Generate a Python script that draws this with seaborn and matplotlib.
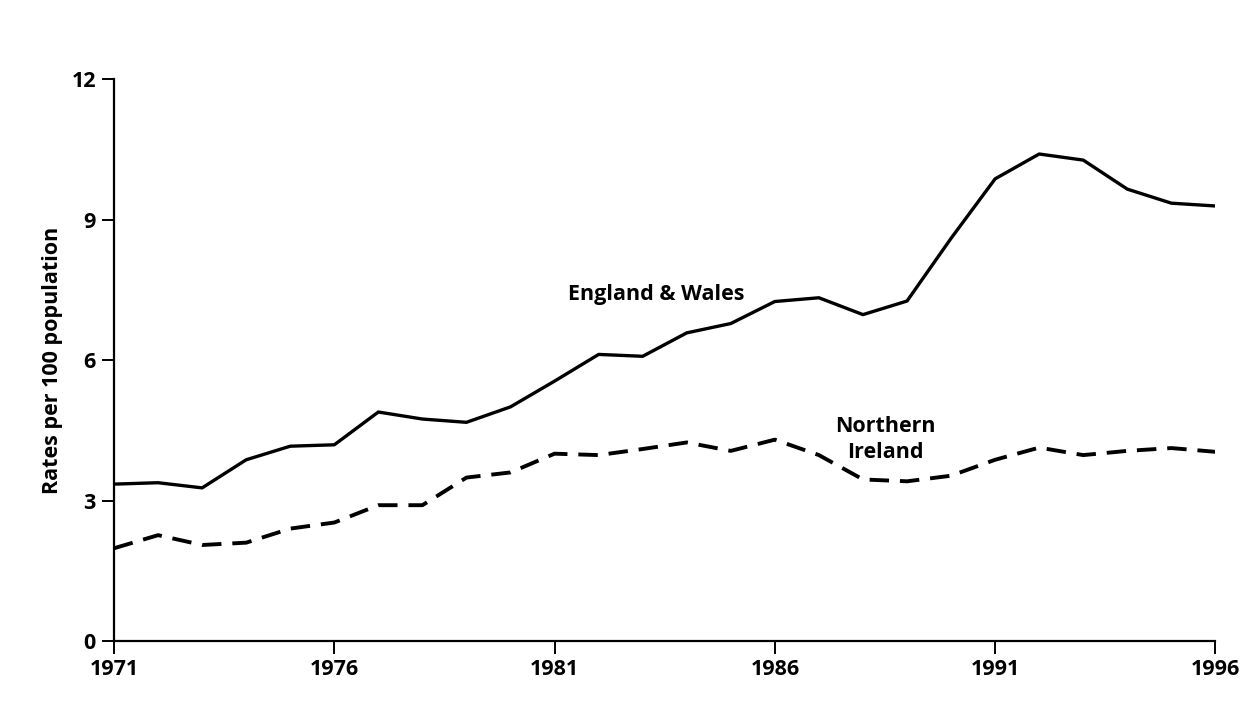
import matplotlib
matplotlib.use("Agg")
import matplotlib.pyplot as plt
import seaborn as sns
import pandas as pd

years = list(range(1971, 1997))
england_wales = [3.35, 3.38, 3.27, 3.87, 4.16, 4.19, 4.89, 4.74, 4.67, 5.0,
                 5.55, 6.12, 6.08, 6.58, 6.78, 7.25, 7.33, 6.97, 7.26, 8.6,
                 9.87, 10.4, 10.27, 9.65, 9.35, 9.29]
northern_ireland = [1.98, 2.26, 2.05, 2.1, 2.4, 2.53, 2.9, 2.9, 3.49, 3.6,
                    4.0, 3.97, 4.1, 4.24, 4.06, 4.3, 3.97, 3.45, 3.41, 3.53,
                    3.87, 4.13, 3.97, 4.06, 4.12, 4.04]
x_ticks = [1971, 1976, 1981, 1986, 1991, 1996]
y_ticks = [0, 3, 6, 9, 12]

sns.set_theme(style="ticks")
plt.rcParams['font.family'] = ['Open Sans', 'DejaVu Sans']
plt.rcParams['text.color'] = 'black'
plt.rcParams['axes.labelcolor'] = 'black'
plt.rcParams['xtick.color'] = 'black'
plt.rcParams['ytick.color'] = 'black'

df = pd.DataFrame({"year": years, "ew": england_wales, "ni": northern_ireland})

fig = plt.figure(figsize=(12.53, 7.19), dpi=100)
ax = fig.add_axes([0.091, 0.1085, 0.879, 0.7815])

sns.lineplot(data=df, x="year", y="ew", ax=ax, color="black", linewidth=2.4)
sns.lineplot(data=df, x="year", y="ni", ax=ax, color="black", linewidth=2.8,
             linestyle=(0, (5, 2.8)))

fs = 15.5
ax.set_xlim(1971, 1996)
ax.set_ylim(0, 12)
ax.set_xticks(x_ticks)
ax.set_yticks(y_ticks)
ax.set_xticklabels([str(t) for t in x_ticks], fontsize=fs, fontweight='bold', color='black')
ax.set_yticklabels([str(t) for t in y_ticks], fontsize=fs, fontweight='bold', color='black')
ax.tick_params(axis='both', direction='out', length=9, width=1.4, color='black', pad=4)
ax.set_xlabel("")
ax.set_ylabel("Rates per 100 population", fontsize=fs, fontweight='bold',
              labelpad=6, color='black')
sns.despine(ax=ax)
for s in ['left', 'bottom']:
    ax.spines[s].set_linewidth(1.6)
    ax.spines[s].set_color('black')

ax.text(1983.3, 7.4, "England & Wales", fontsize=fs, fontweight='bold',
        ha='center', va='center', color='black')
ax.text(1988.5, 4.3, "Northern\nIreland", fontsize=fs, fontweight='bold',
        ha='center', va='center', linespacing=1.35, color='black')

fig.savefig("out.png", dpi=100, facecolor='white')
